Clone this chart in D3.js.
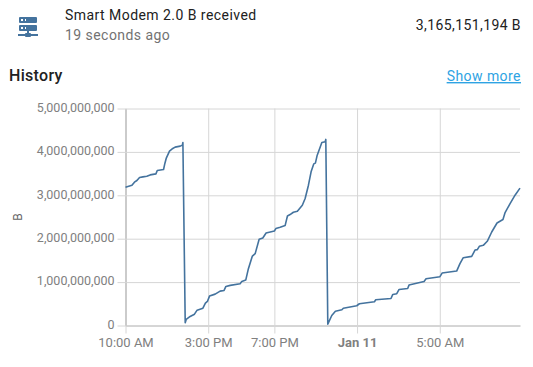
<!DOCTYPE html>
<html>
<head>
<meta charset="utf-8">
<script src="https://cdn.jsdelivr.net/npm/d3@7"></script>
<style>
  html, body { margin: 0; padding: 0; background: #fff; overflow: hidden; }
  svg { display: block; font-family: Roboto, sans-serif; }
</style>
</head>
<body>
<svg id="chart" width="533" height="367"></svg>
<script>
"use strict";

// hours after 10:00 AM on Jan 10
const sampleHours = [
  0, .39, .54, .69, .85, 1.05, 1.29, 1.49, 1.84, 1.92, 2.30, 2.38, 2.46, 2.66, 2.86, 3.00, 3.31, 3.44, 3.47,
  3.61, 3.67, 3.91, 4.17, 4.33, 4.68, 4.83, 4.95, 5.08, 5.42, 5.72, 5.96, 6.07, 6.33, 6.93, 7.03, 7.27, 7.43,
  7.67, 7.84, 8.08, 8.30, 8.50, 9.00, 9.09, 9.35, 9.65, 9.79, 9.95, 10.15, 10.39, 10.69, 10.86, 11.06, 11.22,
  11.38, 11.48, 11.58, 11.87, 12.07, 12.11,
  12.23, 12.47, 12.69, 13.08, 13.17, 13.98, 14.14, 15.05, 15.13, 16.05, 16.16, 16.40, 16.54, 17.06, 17.14,
  18.05, 18.17, 19.01, 19.14, 20.02, 20.22, 20.42, 20.93, 21.13, 21.27, 21.39, 21.63, 21.87, 22.14, 22.46,
  22.82, 22.94, 23.25, 23.55, 23.85
];

// bytes, in millions
const sampleValues = [
  3186, 3233, 3302, 3341, 3410, 3424, 3440, 3470, 3493, 3572, 3595, 3734, 3849, 4018, 4080, 4110, 4133, 4156, 4218,
  62, 139, 208, 261, 353, 399, 515, 554, 677, 723, 792, 808, 900, 924, 963, 1016, 1046, 1309,
  1600, 1656, 1986, 2016, 2131, 2177, 2233, 2263, 2302, 2524, 2556, 2609, 2632, 2771, 2925, 3233, 3540,
  3724, 3741, 3909, 4218, 4232, 4288,
  30, 231, 330, 363, 399, 455, 501, 547, 593, 623, 716, 732, 831, 854, 931,
  1016, 1078, 1124, 1208, 1254, 1425, 1563, 1593, 1739, 1748, 1824, 1847, 1940, 2154, 2362,
  2441, 2593, 2810, 3002, 3165
];

const yTicks = [0, 1000000000, 2000000000, 3000000000, 4000000000, 5000000000];
const xTickHours = [0, 5, 9, 14, 19];
const xTickLabels = ["10:00 AM", "3:00 PM", "7:00 PM", "Jan 11", "5:00 AM"];

const startTime = new Date(2021, 0, 10, 10, 0);
const hoursToDate = h => new Date(startTime.getTime() + h * 3600000);

const iconPath = "M13,18H14A1,1 0 0,1 15,19H22V21H15A1,1 0 0,1 14,22H10A1,1 0 0,1 9,21H2V19H9A1,1 0 0,1 10,18H11V16H4A1,1 0 0,1 3,15V11A1,1 0 0,1 4,10H20A1,1 0 0,1 21,11V15A1,1 0 0,1 20,16H13V18M4,2H20A1,1 0 0,1 21,3V7A1,1 0 0,1 20,8H4A1,1 0 0,1 3,7V3A1,1 0 0,1 4,2M9,6H10V4H9V6M9,14H10V12H9V14M5,4V6H7V4H5M5,12V14H7V12H5Z";

const svg = d3.select("#chart");

// header
svg.append("path")
  .attr("d", iconPath)
  .attr("fill", "#44739e")
  .attr("transform", "translate(16,15)");

svg.append("text").attr("x", 65).attr("y", 20)
  .attr("font-size", 14).attr("letter-spacing", 0.45).attr("fill", "#212121")
  .text("Smart Modem 2.0 B received");
svg.append("text").attr("x", 65).attr("y", 40)
  .attr("font-size", 14).attr("letter-spacing", 0.45).attr("fill", "#727272")
  .text("19 seconds ago");
svg.append("text").attr("x", 521).attr("y", 30)
  .attr("text-anchor", "end").attr("font-size", 14).attr("letter-spacing", 0.4).attr("fill", "#212121")
  .text("3,165,151,194 B");
svg.append("text").attr("x", 9).attr("y", 81)
  .attr("font-size", 16).attr("font-weight", 500).attr("letter-spacing", 0.3).attr("fill", "#212121")
  .text("History");
svg.append("text").attr("x", 521).attr("y", 81)
  .attr("text-anchor", "end").attr("font-size", 14).attr("letter-spacing", 0.45)
  .attr("fill", "#2ea3e3").attr("text-decoration", "underline")
  .text("Show more");

// chart
const xScale = d3.scaleTime()
  .domain([startTime, hoursToDate(23.85)])
  .range([125.5, 520]);

const yScale = d3.scaleLinear()
  .domain([0, 5000000000])
  .range([325.5, 108.5]);

const xAxis = svg.append("g")
  .attr("transform", "translate(0,325.5)")
  .call(d3.axisBottom(xScale)
    .tickValues(xTickHours.map(hoursToDate))
    .tickFormat((d, i) => xTickLabels[i])
    .tickSizeInner(-217)
    .tickSizeOuter(0)
    .tickPadding(12));

const yAxis = svg.append("g")
  .attr("transform", "translate(125.5,0)")
  .call(d3.axisLeft(yScale)
    .tickValues(yTicks)
    .tickFormat(d3.format(","))
    .tickSizeInner(0)
    .tickSizeOuter(0)
    .tickPadding(11));

// gridlines run past the axes as tick marks
xAxis.selectAll(".tick line").attr("y2", -217).attr("y1", 8).attr("stroke", "#d6d6d6");
yAxis.selectAll(".tick line").attr("x1", -8).attr("x2", 394.5).attr("stroke", "#d6d6d6");
xAxis.select(".domain").attr("stroke", "#ababab");
yAxis.select(".domain").attr("stroke", "#ababab");

svg.selectAll(".tick text")
  .attr("font-family", "Roboto, sans-serif")
  .attr("fill", "#808080");

xAxis.selectAll(".tick text").attr("font-size", 13);
yAxis.selectAll(".tick text").attr("font-size", 12.5).attr("dy", "0.22em");

xAxis.selectAll(".tick text")
  .filter((d, i) => xTickLabels[i] === "Jan 11")
  .attr("font-weight", 700);

svg.append("text")
  .attr("transform", "translate(22,217) rotate(-90)")
  .attr("text-anchor", "middle")
  .attr("font-size", 12)
  .attr("fill", "#666")
  .text("B");

const line = d3.line()
  .x(i => xScale(hoursToDate(sampleHours[i])))
  .y(i => yScale(sampleValues[i] * 1000000));

svg.append("path")
  .attr("d", line(d3.range(sampleHours.length)))
  .attr("fill", "none")
  .attr("stroke", "#44739e")
  .attr("stroke-width", 1.6)
  .attr("stroke-linejoin", "round");
</script>
</body>
</html>
